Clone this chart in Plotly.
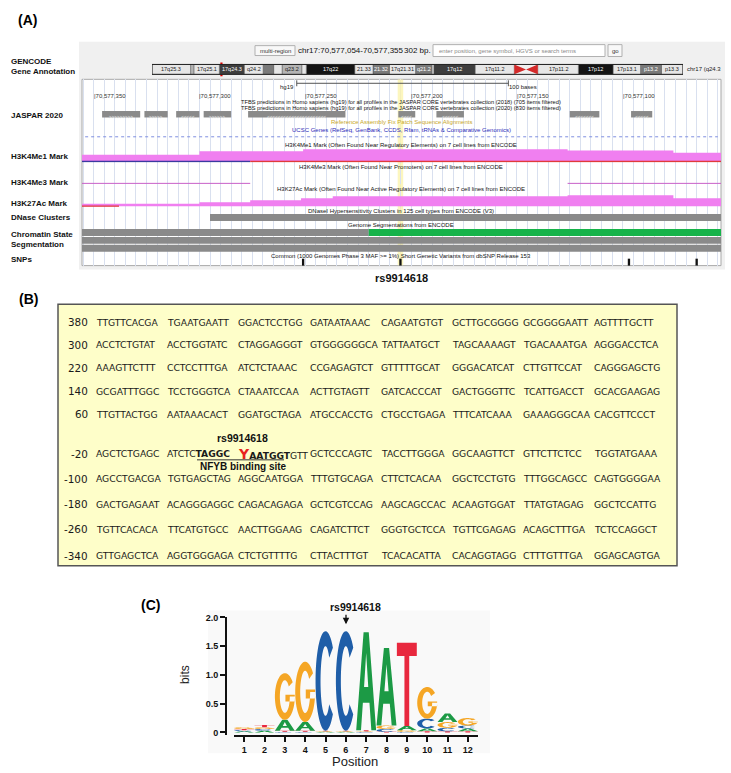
import numpy as np
import plotly.graph_objects as go

W, H = 731, 773
ARIAL = "Liberation Sans"
VERD = "DejaVu Sans"

# ======================= DATA =======================
# ---- Panel A: UCSC browser view (hg19, chr17) ----
VIEW_LEFT = 70577355.5
VIEW_RIGHT = 70577053.5
COORD_TICKS = [70577350, 70577300, 70577250, 70577200, 70577150, 70577100]
RULER_LEFT = 70577254
RULER_BASES = 100

JASPAR_LEFT = [70577346, 70577326, 70577311, 70577298, 70577277, 70577206, 70577188, 70577125, 70577096]
JASPAR_RIGHT = [70577328, 70577315, 70577300, 70577285, 70577231, 70577198, 70577175, 70577111, 70577086]
JASPAR_DIR = ['>', '>', '<', '>', '<', '<', '<', '<', '<']

H3K4ME1_POS = [70577356, 70577300, 70577251, 70577126, 70577076, 70577053]
H3K4ME1_VAL = [0.50, 0.75, 0.89, 0.79, 0.64, 0.64]
H3K4ME1_BASE_POS = [70577356, 70577276, 70577053]
H3K27AC_POS = [70577356, 70577300, 70577276, 70577252, 70577237, 70577126, 70577076, 70577053]
H3K27AC_VAL = [0.17, 0.27, 0.40, 0.53, 0.67, 0.73, 0.53, 0.53]
H3K4ME3_LEFT = [70577356, 70577126]
H3K4ME3_RIGHT = [70577276, 70577053]

DNASE_LEFT = [70577295]
DNASE_RIGHT = [70577053]
SEG_LEFT = [70577356, 70577220]
SEG_RIGHT = [70577220, 70577053]
SEG_STATE = ['other', 'active']
SNP_POS = [70577251, 70577205, 70577097, 70577065]
RS_POS = 70577205

# chr17 ideogram (Mb)
BAND_START = [0.0, 3.3, 6.5, 10.7, 16.0, 22.2, 24.0, 25.8, 31.8, 38.1, 38.4, 40.9, 44.9, 47.4, 50.2,
              57.6, 58.3, 61.3, 62.6, 64.2, 67.1, 70.9, 74.8, 75.3]
BAND_END = [3.3, 6.5, 10.7, 16.0, 22.2, 24.0, 25.8, 31.8, 38.1, 38.4, 40.9, 44.9, 47.4, 50.2, 57.6,
            58.3, 61.3, 62.6, 64.2, 67.1, 70.9, 74.8, 75.3, 81.195]
BAND_STAIN = ['gneg', 'gpos50', 'gneg', 'gpos100', 'gneg', 'acen', 'acen', 'gneg', 'gpos75', 'gneg',
              'gpos50', 'gneg', 'gpos50', 'gneg', 'gpos100', 'gneg', 'gpos25', 'gneg', 'gpos50', 'gneg',
              'gpos75', 'gneg', 'gpos25', 'gneg']
BAND_LABEL = ['p13.3', 'p13.2', '17p13.1', '17p12', '17p11.2', '', '', '17q11.2', '17q12', '',
              'q21.2', '17q21.31', '21.32', '21.33', '17q22', '', 'q23.2', '', '', 'q24.2',
              '17q24.3', '17q25.1', '', '17q25.3']
CHR_LEN = 81.195
CURRENT_MB = 70.577

# ---- Panel B: promoter sequence ----
SEQ_NUM = ['380', '300', '220', '140', '60', '-20', '-100', '-180', '-260', '-340']
SEQ_ROWS = [
    "TTGTTCACGA TGAATGAATT GGACTCCTGG GATAATAAAC CAGAATGTGT GCTTGCGGGG GCGGGGAATT AGTTTTGCTT",
    "ACCTCTGTAT ACCTGGTATC CTAGGAGGGT GTGGGGGGCA TATTAATGCT TAGCAAAAGT TGACAAATGA AGGGACCTCA",
    "AAAGTTCTTT CCTCCTTTGA ATCTCTAAAC CCGAGAGTCT GTTTTTGCAT GGGACATCAT CTTGTTCCAT CAGGGAGCTG",
    "GCGATTTGGC TCCTGGGTCA CTAAATCCAA ACTTGTAGTT GATCACCCAT GACTGGGTTC TCATTGACCT GCACGAAGAG",
    "TTGTTACTGG AATAAACACT GGATGCTAGA ATGCCACCTG CTGCCTGAGA TTTCATCAAA GAAAGGGCAA CACGTTCCCT",
    "AGCTCTGAGC ATCTCTAGGC YAATGGTGTT GCTCCCAGTC TACCTTGGGA GGCAAGTTCT GTTCTTCTCC TGGTATGAAA",
    "AGCCTGACGA TGTGAGCTAG AGGCAATGGA TTTGTGCAGA CTTCTCACAA GGCTCCTGTG TTTGGCAGCC CAGTGGGGAA",
    "GACTGAGAAT ACAGGGAGGC CAGACAGAGA GCTCGTCCAG AAGCAGCCAC ACAAGTGGAT TTATGTAGAG GGCTCCATTG",
    "TGTTCACACA TTCATGTGCC AACTTGGAAG CAGATCTTCT GGGTGCTCCA TGTTCGAGAG ACAGCTTTGA TCTCCAGGCT",
    "GTTGAGCTCA AGGTGGGAGA CTCTGTTTTG CTTACTTTGT TCACACATTA CACAGGTAGG CTTTGTTTGA GGAGCAGTGA",
]
SNP_NAME = "rs9914618"
SITE_NAME = "NFYB binding site"

# ---- Panel C: sequence logo (bits) ----
LOGO_POS = [1, 2, 3, 4, 5, 6, 7, 8, 9, 10, 11, 12]
LOGO_A = [0.02, 0.03, 0.19, 0.15, 0.01, 0.01, 1.70, 1.35, 0.07, 0.05, 0.15, 0.05]
LOGO_C = [0.02, 0.03, 0.01, 0.01, 1.73, 1.73, 0.01, 0.05, 0.01, 0.17, 0.06, 0.05]
LOGO_G = [0.03, 0.03, 0.81, 1.05, 0.01, 0.01, 0.01, 0.06, 0.03, 0.55, 0.10, 0.13]
LOGO_T = [0.02, 0.04, 0.02, 0.02, 0.01, 0.01, 0.02, 0.01, 1.45, 0.02, 0.02, 0.02]
Y_TICKS = [0, 0.5, 1.0, 1.5, 2.0]
Y_TICKTEXT = ['0', '0.5', '1.0', '1.5', '2.0']

# ======================= HELPERS =======================
def X(px):
    return px / W


def Y(py):
    return 1 - py / H


shapes = []
ann = []


def rect(x0, y0, x1, y1, fill, line=None, lw=0, layer='above', xref='paper', yref='paper', px=True):
    if px and xref == 'paper':
        x0, x1 = X(x0), X(x1)
    if px and yref == 'paper':
        y0, y1 = Y(y0), Y(y1)
    shapes.append(dict(type='rect', x0=x0, x1=x1, y0=y0, y1=y1, xref=xref, yref=yref,
                       fillcolor=fill, layer=layer,
                       line=dict(color=line or 'rgba(0,0,0,0)', width=lw)))


def seg(x0, y0, x1, y1, color, width=1, dash='solid', xref='paper', yref='paper', layer='above'):
    if xref == 'paper':
        x0, x1 = X(x0), X(x1)
    if yref == 'paper':
        y0, y1 = Y(y0), Y(y1)
    shapes.append(dict(type='line', x0=x0, x1=x1, y0=y0, y1=y1, xref=xref, yref=yref, layer=layer,
                       line=dict(color=color, width=width, dash=dash)))


def txt(x, y, s, size, color='#000', bold=False, xanchor='left', family=ARIAL, angle=0, xref='paper'):
    ann.append(dict(x=X(x) if xref == 'paper' else x, y=Y(y), xref=xref, yref='paper',
                    text=f'<b>{s}</b>' if bold else s, showarrow=False, xanchor=xanchor,
                    yanchor='middle', textangle=angle, borderpad=0,
                    font=dict(size=size, color=color, family=family)))


fig = go.Figure()

# ======================= PANEL A =======================
txt(17, 15, '(A)', 14, bold=True)
# frame
rect(79, 37, 725, 267, '#f0f0f0', layer='below')
rect(82, 75, 721, 263, '#ffffff', line='#a8a8a8', lw=1, layer='below')

# header controls
rect(255, 41, 295, 51, '#f8f8f8', line='#b0b0b0', lw=1)
txt(275, 46, 'multi-region', 6, '#333', xanchor='center')
txt(297, 46, 'chr17:70,577,054-70,577,355', 8, '#111')
txt(403, 46, '302 bp.', 8, '#111')
rect(433, 40, 605, 52, '#ffffff', line='#b0b0b0', lw=1)
txt(438, 46, 'enter position, gene symbol, HGVS or search terms', 6, '#8a8a8a')
rect(608, 40, 622, 52, '#f8f8f8', line='#b0b0b0', lw=1)
txt(615, 46, 'go', 6, '#333', xanchor='center')

# ideogram
STAIN_COLOR = {'gneg': '#e6e6e6', 'gpos25': '#b4b4b4', 'gpos50': '#7a7a7a', 'gpos75': '#3e3e3e',
               'gpos100': '#141414'}
for s, e, st, lab in zip(BAND_START, BAND_END, BAND_STAIN, BAND_LABEL):
    if st == 'acen':
        continue
    rect(s, 0, e, 1, STAIN_COLOR[st], line='#555', lw=0.5, xref='x3', yref='y6', px=False)
    if lab:
        ann.append(dict(x=(s + e) / 2, y=0.5, xref='x3', yref='y6', text=lab, showarrow=False,
                        borderpad=0,
                        font=dict(size=5.5, family=ARIAL,
                                  color='#ffffff' if st in ('gpos50', 'gpos75', 'gpos100') else '#222')))
acen = [i for i, st in enumerate(BAND_STAIN) if st == 'acen']
a0, a1 = BAND_START[acen[0]], BAND_END[acen[-1]]
am = BAND_END[acen[0]]
shapes.append(dict(type='path', xref='x3', yref='y6', fillcolor='#d42a2a', line=dict(width=0),
                   path=f'M {a0},0 L {a0},1 L {am},0.5 Z M {a1},0 L {a1},1 L {am},0.5 Z'))
rect(BAND_START[0], 0, BAND_END[-1], 1, 'rgba(0,0,0,0)', line='#222', lw=1, xref='x3', yref='y6', px=False)
fig.add_trace(go.Scatter(x=[CURRENT_MB, CURRENT_MB], y=[-0.2, 1.2], xaxis='x3', yaxis='y6', mode='lines',
                         line=dict(color='#e00000', width=2.2), hoverinfo='skip', showlegend=False))
txt(686, 65, 'chr17 (q24.3', 6, '#222')

# ruler and coordinates
RY = 79
seg(RULER_LEFT, RY, RULER_LEFT - RULER_BASES, RY, '#555', 1, xref='x2')
seg(RULER_LEFT, RY - 3, RULER_LEFT, RY + 3, '#555', 1, xref='x2')
seg(RULER_LEFT - RULER_BASES, RY - 3, RULER_LEFT - RULER_BASES, RY + 3, '#555', 1, xref='x2')
ann.append(dict(x=RULER_LEFT, y=Y(RY), xref='x2', yref='paper', text='hg19', showarrow=False, borderpad=0,
                xanchor='right', xshift=-2, font=dict(size=6, family=ARIAL, color='#222')))
ann.append(dict(x=RULER_LEFT - RULER_BASES, y=Y(RY), xref='x2', yref='paper', text=f'{RULER_BASES} bases',
                showarrow=False, xanchor='left', xshift=0, borderpad=0,
                font=dict(size=6, family=ARIAL, color='#222')))
for c in COORD_TICKS:
    ann.append(dict(x=c, y=Y(88), xref='x2', yref='paper', text='|' + f'{c:,}', showarrow=False,
                    xanchor='left', xshift=-1, borderpad=0, font=dict(size=6, family=ARIAL, color='#333')))

CX = 401
txt(CX, 97.5, 'TFBS predictions in Homo sapiens (hg19) for all profiles in the JASPAR CORE vertebrates collection (2018) (705 items filtered)', 5.7, '#111', xanchor='center')
txt(CX, 104, 'TFBS predictions in Homo sapiens (hg19) for all profiles in the JASPAR CORE vertebrates collection (2020) (830 items filtered)', 5.7, '#111', xanchor='center')
for l, r, d in zip(JASPAR_LEFT, JASPAR_RIGHT, JASPAR_DIR):
    rect(l, Y(107), r, Y(113.5), '#8a8a8a', xref='x2', px=False)
    n = max(3, int(round((l - r) / 2.1)))
    ann.append(dict(x=(l + r) / 2, y=Y(110.2), xref='x2', yref='paper', text=d * n, showarrow=False,
                    borderpad=0, font=dict(size=4.6, family=ARIAL, color='#ececec')))
txt(CX, 118.5, 'Reference Assembly Fix Patch Sequence Alignments', 6, '#c8a82a', xanchor='center')
txt(CX, 126, 'UCSC Genes (RefSeq, GenBank, CCDS, Rfam, tRNAs &amp; Comparative Genomics)', 6, '#2a2ab8', xanchor='center')
seg(VIEW_LEFT - 1.5, 133, VIEW_RIGHT + 1.5, 133, '#7f8fe0', 1, dash='dot', xref='x2')
txt(CX, 141, 'H3K4Me1 Mark (Often Found Near Regulatory Elements) on 7 cell lines from ENCODE', 6, '#111', xanchor='center')
txt(CX, 163.5, 'H3K4Me3 Mark (Often Found Near Promoters) on 7 cell lines from ENCODE', 6, '#111', xanchor='center')
txt(CX, 185.5, 'H3K27Ac Mark (Often Found Near Active Regulatory Elements) on 7 cell lines from ENCODE', 6, '#111', xanchor='center')
txt(CX, 207.5, 'DNaseI Hypersensitivity Clusters in 125 cell types from ENCODE (V3)', 6, '#111', xanchor='center')
txt(CX, 222, 'Genome Segmentations from ENCODE', 6, '#111', xanchor='center')
txt(CX, 253, 'Common (1000 Genomes Phase 3 MAF &gt;= 1%) Short Genetic Variants from dbSNP Release 153', 6, '#111', xanchor='center')

PINK = '#f07ff0'
fig.add_trace(go.Scatter(x=H3K4ME1_POS, y=H3K4ME1_VAL, xaxis='x2', yaxis='y3', mode='lines',
                         line=dict(shape='hv', width=0, color=PINK), fill='tozeroy', fillcolor=PINK,
                         hoverinfo='skip', showlegend=False))
fig.add_trace(go.Scatter(x=H3K4ME1_BASE_POS[:2], y=[0, 0], xaxis='x2', yaxis='y3', mode='lines',
                         line=dict(color='#3a3aa0', width=1.4), hoverinfo='skip', showlegend=False))
fig.add_trace(go.Scatter(x=H3K4ME1_BASE_POS[1:], y=[0, 0], xaxis='x2', yaxis='y3', mode='lines',
                         line=dict(color='#e03a3a', width=1.4), hoverinfo='skip', showlegend=False))
for l, r in zip(H3K4ME3_LEFT, H3K4ME3_RIGHT):
    fig.add_trace(go.Scatter(x=[l, r], y=[0, 0], xaxis='x2', yaxis='y5', mode='lines',
                             line=dict(color='#c860c8', width=1), hoverinfo='skip', showlegend=False))
fig.add_trace(go.Scatter(x=H3K27AC_POS, y=H3K27AC_VAL, xaxis='x2', yaxis='y4', mode='lines',
                         line=dict(shape='hv', width=0, color=PINK), fill='tozeroy', fillcolor=PINK,
                         hoverinfo='skip', showlegend=False))
fig.add_trace(go.Scatter(x=[H3K27AC_POS[0], H3K27AC_POS[0] - 18], y=[0, 0], xaxis='x2', yaxis='y4',
                         mode='lines', line=dict(color='#e03a3a', width=1.2), hoverinfo='skip', showlegend=False))

for l, r in zip(DNASE_LEFT, DNASE_RIGHT):
    rect(l, Y(211), r, Y(218), '#8a8a8a', xref='x2', px=False)
SEG_COLOR = {'other': '#8a8a8a', 'active': '#16b34a'}
for l, r, st in zip(SEG_LEFT, SEG_RIGHT, SEG_STATE):
    rect(l, Y(226), r, Y(233), SEG_COLOR[st], xref='x2', px=False)
rect(VIEW_LEFT, Y(234), VIEW_RIGHT, Y(241), '#8a8a8a', xref='x2', px=False)
rect(VIEW_LEFT, Y(242), VIEW_RIGHT, Y(249), '#8a8a8a', xref='x2', px=False)
for p in SNP_POS:
    rect(p + 0.55, Y(256), p - 0.55, Y(263), '#111111', xref='x2', px=False)
# highlight of the SNP
shapes.append(dict(type='rect', xref='x2', yref='y2', x0=RS_POS + 1.3, x1=RS_POS - 1.3, y0=0, y1=1,
                   fillcolor='#fbf3a8', opacity=0.75, layer='between', line=dict(width=0)))
fig.add_trace(go.Scatter(x=[RS_POS], y=[0.5], xaxis='x2', yaxis='y2', mode='markers',
                         marker=dict(opacity=0), hoverinfo='skip', showlegend=False))
txt(401, 275, SNP_NAME, 11, '#111', bold=True, xanchor='center')

# left labels
for lab, yy in [('GENCODE', 57), ('Gene Annotation', 67), ('JASPAR 2020', 112), ('H3K4Me1 Mark', 153),
                ('H3K4Me3 Mark', 179), ('H3K27Ac Mark', 200), ('DNase Clusters', 214),
                ('Chromatin State', 232), ('Segmentation', 242), ('SNPs', 257)]:
    txt(10, yy, lab, 8, '#111', bold=True)

# ======================= PANEL B =======================
txt(18, 297, '(B)', 14, bold=True)
rect(58, 302, 677, 566, '#fefec9', line='#555555', lw=1.5, layer='below')
ROW_Y = [320, 343, 366, 390, 413, 453, 478, 504, 529, 556]
GX0, GDX = 95, 71.2
SEQ_FONT = 9.2
for num, row, yy in zip(SEQ_NUM, SEQ_ROWS, ROW_Y):
    txt(89, yy, num, 10.4, '#1a1a1a', xanchor='right', family=VERD)
    groups = row.split(' ')
    for k, g in enumerate(groups):
        s = g
        if 'Y' in g and num == '-20':
            s = "<span style='color:#e8231e;font-size:14px'><b>Y</b></span><b>AATGGT</b>GTT"
        elif num == '-20' and k == 1:
            s = "ATCTC<b>TAGGC</b>"
        txt(GX0 + GDX * k, yy, s, SEQ_FONT, '#1a1a1a', family=VERD)
seg(197, 459, 284, 459, '#333', 1)
txt(242, 437, SNP_NAME, 10.5, '#111', bold=True, xanchor='center')
txt(243, 466, SITE_NAME, 10, '#111', bold=True, xanchor='center')

# ======================= PANEL C =======================
txt(140, 605, '(C)', 14, bold=True)
rect(208, 611, 490, 755, '#f9f9f9', layer='below')
LETTER_COLOR = {'A': '#1c9a45', 'C': '#1f5ea8', 'G': '#f5a625', 'T': '#e8283e'}


def area(p):
    p = np.asarray(p)
    return 0.5 * np.sum(p[:, 0] * np.roll(p[:, 1], -1) - np.roll(p[:, 0], -1) * p[:, 1])


def orient(p, ccw=True):
    return p if (area(p) > 0) == ccw else p[::-1]


def ring(a0, a1, rxi=0.25, ryi=0.35, n=48):
    t = np.radians(np.linspace(a0, a1, n))
    outer = [(0.5 + 0.5 * np.cos(a), 0.5 + 0.5 * np.sin(a)) for a in t]
    inner = [(0.5 + rxi * np.cos(a), 0.5 + ryi * np.sin(a)) for a in t[::-1]]
    return outer + inner


GLYPHS = {
    'A': [orient([(0, 0), (0.37, 1), (0.63, 1), (1, 0), (0.76, 0), (0.665, 0.28), (0.335, 0.28), (0.24, 0)]),
          orient([(0.395, 0.44), (0.5, 0.79), (0.605, 0.44)], ccw=False)],
    'T': [orient([(0, 1), (1, 1), (1, 0.84), (0.62, 0.84), (0.62, 0), (0.38, 0), (0.38, 0.84), (0, 0.84)])],
    'C': [orient(ring(42, 318))],
    'G': [orient(ring(38, 360)), orient([(0.53, 0.39), (1, 0.39), (1, 0.54), (0.53, 0.54)])],
}


def letter_path(letter, xc, y0, h, w=0.98):
    parts = []
    for poly in GLYPHS[letter]:
        pts = [(xc + (u - 0.5) * w, y0 + v * h) for u, v in poly]
        parts.append('M ' + ' L '.join(f'{a:.4f},{b:.5f}' for a, b in pts) + ' Z')
    return ' '.join(parts)


for i, pos in enumerate(LOGO_POS):
    col = sorted([('A', LOGO_A[i]), ('C', LOGO_C[i]), ('G', LOGO_G[i]), ('T', LOGO_T[i])], key=lambda t: t[1])
    base = 0.0
    for letter, hgt in col:
        if hgt > 0.004:
            shapes.append(dict(type='path', xref='x', yref='y', path=letter_path(letter, pos, base, hgt),
                               fillcolor=LETTER_COLOR[letter], line=dict(width=0), layer='above'))
        base += hgt

fig.add_trace(go.Scatter(x=LOGO_POS, y=[0] * 12, xaxis='x', yaxis='y', mode='markers',
                         marker=dict(opacity=0), hoverinfo='skip', showlegend=False))
txt(185, 676, 'bits', 12, '#222', xanchor='center', angle=-90)
txt(355, 763, 'Position', 13, '#222', xanchor='center')
txt(355, 607, SNP_NAME, 10.5, '#111', bold=True, xanchor='center')
ann.append(dict(x=X(346), y=Y(625), xref='paper', yref='paper', text='', showarrow=True, ax=0, ay=-11,
                arrowhead=2, arrowsize=1, arrowwidth=1.3, arrowcolor='#111'))

# ======================= LAYOUT =======================
hidden = dict(visible=False, showgrid=False, zeroline=False, fixedrange=True)
fig.update_layout(
    width=W, height=H, margin=dict(l=0, r=0, t=0, b=0),
    paper_bgcolor='white', plot_bgcolor='rgba(0,0,0,0)', showlegend=False,
    xaxis=dict(domain=[X(234), X(478)], range=[0.5, 12.5], anchor='y', tickvals=LOGO_POS,
               ticks='outside', ticklen=5, tickwidth=2, tickcolor='#111', showline=True, linewidth=2,
               linecolor='#111', showgrid=False, zeroline=False,
               tickfont=dict(size=9, family=ARIAL, color='#111', weight='bold')),
    yaxis=dict(domain=[Y(737), Y(618)], range=[-0.05, 2.0], anchor='free', position=X(226),
               tickvals=Y_TICKS, ticktext=Y_TICKTEXT, ticks='outside', ticklen=5, tickwidth=2,
               tickcolor='#111', showline=True, linewidth=2, linecolor='#111', showgrid=False,
               zeroline=False, tickfont=dict(size=9, family=ARIAL, color='#111', weight='bold')),
    xaxis2=dict(domain=[X(82), X(721)], range=[VIEW_LEFT, VIEW_RIGHT], anchor='y2', showgrid=True,
                gridcolor='#d9e0ef', gridwidth=1, dtick=5, tick0=70577055, showticklabels=False,
                ticks='', zeroline=False, showline=False, fixedrange=True),
    yaxis2=dict(domain=[Y(263), Y(75)], range=[0, 1], anchor='x2', **hidden),
    yaxis3=dict(domain=[Y(159), Y(144)], range=[-1 / 14, 1], anchor='x2', **hidden),
    yaxis4=dict(domain=[Y(204), Y(188)], range=[-1 / 15, 1], anchor='x2', **hidden),
    yaxis5=dict(domain=[Y(181), Y(166)], range=[-1 / 14, 1], anchor='x2', **hidden),
    xaxis3=dict(domain=[X(152), X(683)], range=[CHR_LEN, 0], anchor='y6', **hidden),
    yaxis6=dict(domain=[Y(73), Y(57)], range=[-0.3, 1.3], anchor='x3', **hidden),
    shapes=shapes, annotations=ann,
)
fig.write_html("out.html", config={'displayModeBar': False},
               post_script="document.body.style.margin='0px';document.body.style.overflow='hidden';")
